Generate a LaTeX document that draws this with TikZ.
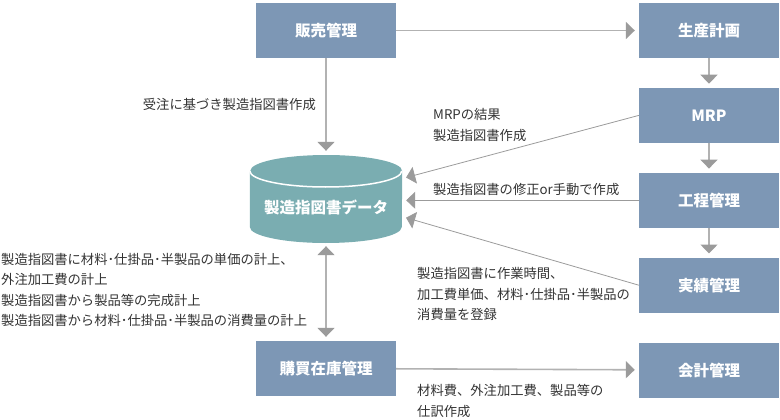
\documentclass[tikz,border=0pt]{standalone}
\usepackage{fontspec}
\setmainfont{Noto Sans CJK JP}
\usepackage{tikz}
\usetikzlibrary{arrows.meta,positioning,backgrounds}
\definecolor{boxblue}{RGB}{125,151,181}
\definecolor{datateal}{RGB}{122,173,177}
\definecolor{linegray}{RGB}{178,178,178}
\definecolor{tipgray}{RGB}{155,155,155}

\begin{document}
\begin{tikzpicture}[
    x=1pt, y=-1pt,
    node distance=29.5pt,
    system/.style={rectangle, fill=boxblue, text=white, minimum width=140pt, minimum height=55pt, inner sep=0pt, font=\fontsize{15.5}{18}\selectfont\bfseries},
    database/.style={rectangle, text=white, minimum width=152pt, minimum height=88pt, inner sep=0pt, text height=31.5pt, text depth=2pt, font=\fontsize{15.5}{18}\selectfont\bfseries},
    note/.style={inner sep=0pt, align=left, font=\fontsize{13.3}{20.5}\selectfont, text=black!80},
    arrow/.style={draw=linegray, line width=1.6pt, -{Triangle[width=17pt,length=9pt,color=tipgray]}, shorten >=4pt}
]
\useasboundingbox (0,0) rectangle (780,420);

% Left column
\node[system] (sales) at (326,30.5) {販売管理};
\node[database] (data) at (326,199) {製造指図書データ};
\node[system] (purchase) at (326,368.5) {購買在庫管理};

% Cylinder behind the data node
\begin{scope}[on background layer]
\fill[datateal] (data.west |- 0,171) -- (data.west |- 0,227) arc[start angle=180, end angle=360, x radius=76pt, y radius=16pt] -- (data.east |- 0,171) arc[start angle=0, end angle=180, x radius=76pt, y radius=16pt] -- cycle;
\draw[white, line width=1.5pt] (data.west |- 0,171) arc[start angle=180, end angle=360, x radius=76pt, y radius=16pt];
\end{scope}

% Right column
\node[system] (plan) at (709,30.5) {生産計画};
\node[system, below=of plan] (mrp) {MRP};
\node[system, below=of mrp] (process) {工程管理};
\node[system, below=of process] (result) {実績管理};
\node[system, below=of result] (account) {会計管理};

% Labels
\node[note, anchor=east] (ordernote) at (316,104) {受注に基づき製造指図書作成};
\node[note, anchor=west] (mrpnote) at (433,125) {MRPの結果\\製造指図書作成};
\node[note, anchor=west] (processnote) at (433,189) {製造指図書の修正or手動で作成};
\node[note, anchor=west] (stocknote) at (1,290) {製造指図書に材料･仕掛品･半製品の単価の計上、\\外注加工費の計上\\製造指図書から製品等の完成計上\\製造指図書から材料･仕掛品･半製品の消費量の計上};
\node[note, anchor=west] (resultnote) at (417,294) {製造指図書に作業時間、\\加工費単価、材料･仕掛品･半製品の\\消費量を登録};
\node[note, anchor=west] (accountnote) at (417,401) {材料費、外注加工費、製品等の\\仕訳作成};

% Arrows
\draw[arrow] (sales) -- (plan);
\draw[arrow] (sales) -- (data.north);
\draw[arrow] (plan) -- (mrp);
\draw[arrow] (mrp) -- (process);
\draw[arrow] (process) -- (result);
\draw[arrow, line width=0.8pt, draw=tipgray] (mrp.west) -- (data.15);
\draw[arrow, line width=0.8pt, draw=tipgray] (process.west) -- (process.west -| data.east);
\draw[arrow, line width=0.8pt, draw=tipgray] (result.west) -- (data.-13);
\draw[arrow, {Triangle[width=17pt,length=9pt,color=tipgray]}-{Triangle[width=17pt,length=9pt,color=tipgray]}, shorten <=3pt] (data.south) -- (purchase.north);
\draw[arrow] (purchase) -- (account);

\end{tikzpicture}
\end{document}
